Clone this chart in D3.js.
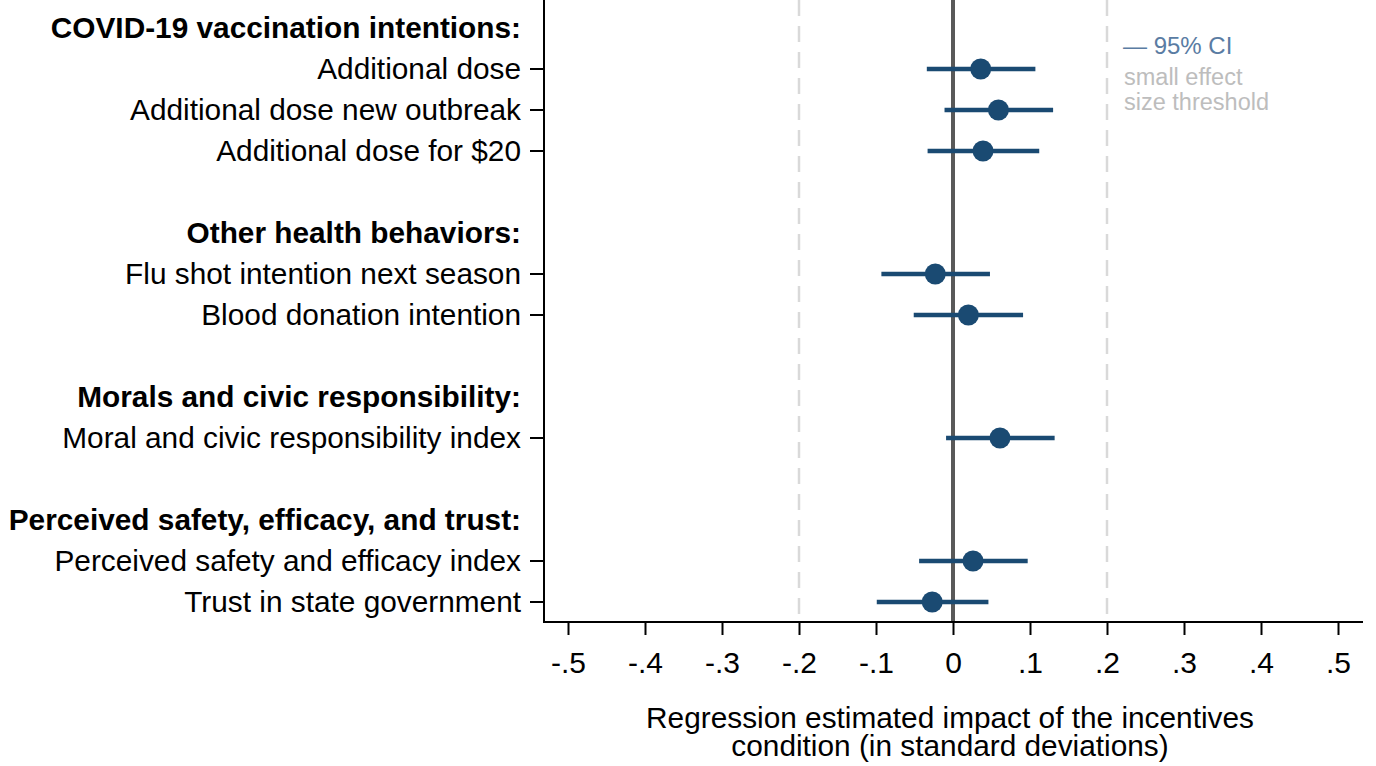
<!DOCTYPE html>
<html>
<head>
<meta charset="utf-8">
<script src="https://cdn.jsdelivr.net/npm/d3@7/dist/d3.min.js"></script>
<style>
  html, body { margin: 0; padding: 0; background: #fff; }
  svg { display: block; }
  text { font-family: "Liberation Sans", Arial, Helvetica, sans-serif; }
</style>
</head>
<body>
<svg id="chart" width="1376" height="766"></svg>
<script>
// Row labels, top to bottom; headings are bold group titles with no estimate
const rowLabels = [
  "COVID-19 vaccination intentions:",
  "Additional dose",
  "Additional dose new outbreak",
  "Additional dose for $20",
  "",
  "Other health behaviors:",
  "Flu shot intention next season",
  "Blood donation intention",
  "",
  "Morals and civic responsibility:",
  "Moral and civic responsibility index",
  "",
  "Perceived safety, efficacy, and trust:",
  "Perceived safety and efficacy index",
  "Trust in state government"
];
const headingRows = [0, 5, 9, 12];

// Outcomes with estimates
const outcomes = [
  "Additional dose",
  "Additional dose new outbreak",
  "Additional dose for $20",
  "Flu shot intention next season",
  "Blood donation intention",
  "Moral and civic responsibility index",
  "Perceived safety and efficacy index",
  "Trust in state government"
];
const estimates = [0.036, 0.059, 0.039, -0.023, 0.020, 0.061, 0.026, -0.027];
const ciLower   = [-0.034, -0.011, -0.033, -0.093, -0.051, -0.009, -0.044, -0.099];
const ciUpper   = [0.107, 0.130, 0.112, 0.048, 0.091, 0.132, 0.097, 0.046];

const xTicks = [-0.5, -0.4, -0.3, -0.2, -0.1, 0, 0.1, 0.2, 0.3, 0.4, 0.5];
const xTickLabels = ["-.5", "-.4", "-.3", "-.2", "-.1", "0", ".1", ".2", ".3", ".4", ".5"];
const thresholds = [-0.2, 0.2];

const svg = d3.select("#chart");
const plotLeft = 544, plotRight = 1363, plotTop = 0, plotBottom = 622;

const x = d3.scaleLinear().domain([-0.5, 0.5]).range([568, 1338]);
const y = d3.scaleLinear().domain([0, 14]).range([28, 602]);

const navy = "#1a4a72";
const labelSize = "29.8px";

// small effect size threshold lines
svg.selectAll("line.thr").data(thresholds).join("line")
  .attr("class", "thr")
  .attr("x1", d => x(d)).attr("x2", d => x(d))
  .attr("y1", plotTop).attr("y2", plotBottom)
  .attr("stroke", "#d9d9d9").attr("stroke-width", 2.5)
  .attr("stroke-dasharray", "16,10");

// zero line
svg.append("line")
  .attr("x1", x(0)).attr("x2", x(0))
  .attr("y1", plotTop).attr("y2", plotBottom)
  .attr("stroke", "#595959").attr("stroke-width", 4);

// x axis
const xAxis = d3.axisBottom(x)
  .tickValues(xTicks)
  .tickFormat((d, i) => xTickLabels[i])
  .tickSize(13).tickPadding(17).tickSizeOuter(0);
const gx = svg.append("g").attr("transform", `translate(0,${plotBottom})`).call(xAxis);
gx.select(".domain").remove();
gx.selectAll(".tick line").attr("stroke", "#000").attr("stroke-width", 2);
gx.selectAll(".tick text")
  .attr("fill", "#000")
  .style("font-family", "'Liberation Sans', Arial, sans-serif")
  .style("font-size", "30px");
svg.append("line")
  .attr("x1", plotLeft).attr("x2", plotRight)
  .attr("y1", plotBottom).attr("y2", plotBottom)
  .attr("stroke", "#000").attr("stroke-width", 2);

// y axis
svg.append("line")
  .attr("x1", plotLeft).attr("x2", plotLeft)
  .attr("y1", plotTop).attr("y2", plotBottom + 1)
  .attr("stroke", "#000").attr("stroke-width", 2);

const outcomeRows = outcomes.map(o => rowLabels.indexOf(o));

svg.selectAll("line.ytick").data(outcomeRows).join("line")
  .attr("class", "ytick")
  .attr("x1", plotLeft - 14).attr("x2", plotLeft)
  .attr("y1", d => y(d)).attr("y2", d => y(d))
  .attr("stroke", "#000").attr("stroke-width", 2);

svg.selectAll("text.rowlab").data(rowLabels.map((t, i) => ({t, i})).filter(d => d.t))
  .join("text")
  .attr("class", "rowlab")
  .attr("x", 521)
  .attr("y", d => y(d.i))
  .attr("dy", "0.35em")
  .attr("text-anchor", "end")
  .attr("fill", "#000")
  .style("font-size", labelSize)
  .style("font-weight", d => headingRows.includes(d.i) ? "bold" : "normal")
  .text(d => d.t);

// confidence intervals
svg.selectAll("line.ci").data(outcomes).join("line")
  .attr("class", "ci")
  .attr("x1", (d, i) => x(ciLower[i])).attr("x2", (d, i) => x(ciUpper[i]))
  .attr("y1", (d, i) => y(outcomeRows[i])).attr("y2", (d, i) => y(outcomeRows[i]))
  .attr("stroke", navy).attr("stroke-width", 4.5);

// point estimates
svg.selectAll("circle.est").data(outcomes).join("circle")
  .attr("class", "est")
  .attr("cx", (d, i) => x(estimates[i]))
  .attr("cy", (d, i) => y(outcomeRows[i]))
  .attr("r", 10.5)
  .attr("fill", navy);

// legend
svg.append("text")
  .attr("x", 1123).attr("y", 54)
  .attr("fill", "#5a7ca3")
  .style("font-size", "24px")
  .text("\u2014 95% CI");
svg.append("text")
  .attr("x", 1124).attr("y", 85)
  .attr("fill", "#bdbdbd")
  .style("font-size", "23.5px")
  .text("small effect");
svg.append("text")
  .attr("x", 1124).attr("y", 110)
  .attr("fill", "#bdbdbd")
  .style("font-size", "23.5px")
  .text("size threshold");

// x axis title
const title = svg.append("text")
  .attr("x", 950).attr("y", 728)
  .attr("text-anchor", "middle")
  .attr("fill", "#000")
  .style("font-size", labelSize);
title.append("tspan").attr("x", 950).attr("dy", 0).text("Regression estimated impact of the incentives");
title.append("tspan").attr("x", 950).attr("dy", 28).text("condition (in standard deviations)");
</script>
</body>
</html>
